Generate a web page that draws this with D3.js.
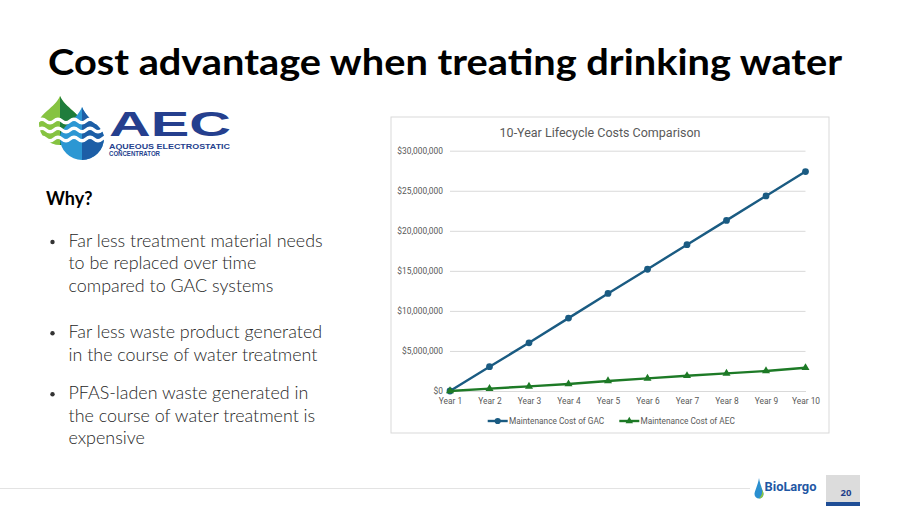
<!DOCTYPE html>
<html>
<head>
<meta charset="utf-8">
<script src="https://cdn.jsdelivr.net/npm/d3@7"></script>
<style>
  html, body { margin: 0; padding: 0; background: #fff; }
  svg { display: block; }
</style>
</head>
<body>
<svg id="slide" width="900" height="506"></svg>
<script>
// ---------- DATA ----------
const years = ["Year 1","Year 2","Year 3","Year 4","Year 5","Year 6","Year 7","Year 8","Year 9","Year 10"];
const gacCost = [0, 3030000, 6020000, 9100000, 12180000, 15200000, 18270000, 21300000, 24350000, 27400000];
const aecCost = [0, 300000, 580000, 870000, 1250000, 1580000, 1900000, 2200000, 2500000, 2900000];
const yTicks = [0, 5000000, 10000000, 15000000, 20000000, 25000000, 30000000];
const seriesNames = ["Maintenance Cost of GAC", "Maintenance Cost of AEC"];
const slideTitle = "Cost advantage when treating drinking water";
const chartTitle = "10-Year Lifecycle Costs Comparison";
const bullets = [
  ["Far less treatment material needs", "to be replaced over time", "compared to GAC systems"],
  ["Far less waste product generated", "in the course of water treatment"],
  ["PFAS-laden waste generated in", "the course of water treatment is", "expensive"]
];

const svg = d3.select("#slide");

// ---------- SLIDE TITLE ----------
svg.append("text")
  .attr("x", 48).attr("y", 75)
  .attr("font-family", "Lato, 'Open Sans', sans-serif")
  .attr("font-weight", 700).attr("font-size", 36)
  .attr("fill", "#000")
  .attr("textLength", 794).attr("lengthAdjust", "spacingAndGlyphs")
  .text(slideTitle);

// ---------- AEC LOGO ----------
const logo = svg.append("g");
function dropPath(cx, cy, r, tipY) {
  const k = tipY + (cy - tipY) * 0.45;
  return `M${cx},${tipY} C${cx + r * 0.25},${k} ${cx + r},${cy - r * 0.55} ${cx + r},${cy}
          A${r},${r} 0 0 1 ${cx - r},${cy}
          C${cx - r},${cy - r * 0.55} ${cx - r * 0.25},${k} ${cx},${tipY} Z`;
}
const defs = svg.append("defs");
defs.append("clipPath").attr("id", "gclip").append("path").attr("d", dropPath(60, 124, 21, 96));
defs.append("clipPath").attr("id", "bclip").append("path").attr("d", dropPath(82, 138, 22, 107));
logo.append("path").attr("d", dropPath(60, 124, 21, 96)).attr("fill", "#86c341");
logo.append("rect").attr("x", 60).attr("y", 90).attr("width", 30).attr("height", 60)
  .attr("fill", "#1f7d3c").attr("clip-path", "url(#gclip)");
logo.append("path").attr("d", dropPath(82, 138, 22, 107)).attr("fill", "#2c97d3");
logo.append("rect").attr("x", 82).attr("y", 100).attr("width", 30).attr("height", 70)
  .attr("fill", "#1d5ea6").attr("clip-path", "url(#bclip)");
[121, 130, 139].forEach(yy => {
  let d = `M38,${yy}`;
  for (let x = 38; x < 104; x += 16) {
    d += ` Q${x + 4},${yy - 3.5} ${x + 8},${yy} Q${x + 12},${yy + 3.5} ${x + 16},${yy}`;
  }
  logo.append("path").attr("d", d).attr("fill", "none")
    .attr("stroke", "#fff").attr("stroke-width", 3.2);
});
logo.append("text").attr("x", 109).attr("y", 136)
  .attr("font-family", "'Liberation Sans', Arial, sans-serif").attr("font-weight", 700)
  .attr("font-size", 35).attr("fill", "#253f8e")
  .attr("textLength", 122).attr("lengthAdjust", "spacingAndGlyphs").text("AEC");
logo.append("text").attr("x", 109).attr("y", 148.6)
  .attr("font-family", "'Liberation Sans', Arial, sans-serif").attr("font-weight", 700)
  .attr("font-size", 6.3).attr("fill", "#253f8e")
  .attr("textLength", 121).attr("lengthAdjust", "spacingAndGlyphs").text("AQUEOUS ELECTROSTATIC");
logo.append("text").attr("x", 109).attr("y", 156.2)
  .attr("font-family", "'Liberation Sans', Arial, sans-serif").attr("font-weight", 700)
  .attr("font-size", 6.3).attr("fill", "#253f8e")
  .attr("textLength", 51).attr("lengthAdjust", "spacingAndGlyphs").text("CONCENTRATOR");

// ---------- LEFT TEXT ----------
svg.append("text").attr("x", 46).attr("y", 205)
  .attr("font-family", "Lato, 'Open Sans', sans-serif")
  .attr("font-weight", 700).attr("font-size", 18).attr("fill", "#000").text("Why?");

const bulletBaselines = [[247, 269.3, 291.6], [338.3, 360.6], [399.3, 421.6, 443.9]];
const bodyFont = "Lato, 'Open Sans', sans-serif";
bullets.forEach((lines, i) => {
  const b0 = bulletBaselines[i][0];
  svg.append("circle").attr("cx", 52.5).attr("cy", b0 - 5).attr("r", 2.2).attr("fill", "#333");
  lines.forEach((ln, j) => {
    svg.append("text").attr("x", 68.5).attr("y", bulletBaselines[i][j])
      .attr("font-family", bodyFont).attr("font-weight", 300)
      .attr("font-size", 17.9).attr("fill", "#262626").text(ln);
  });
});

// ---------- CHART ----------
const frame = { x: 391, y: 117, w: 438, h: 316 };
svg.append("rect").attr("x", frame.x).attr("y", frame.y)
  .attr("width", frame.w).attr("height", frame.h)
  .attr("fill", "#fff").attr("stroke", "#d9d9d9").attr("stroke-width", 1);

const chartFont = "Roboto, 'Liberation Sans', sans-serif";
svg.append("text").attr("x", 600).attr("y", 137).attr("text-anchor", "middle")
  .attr("font-family", chartFont).attr("font-size", 12.5).attr("fill", "#595959")
  .text(chartTitle);

const x = d3.scalePoint().domain(years).range([450, 805.5]);
const y = d3.scaleLinear().domain([0, 30000000]).range([391, 150.7]);

// gridlines + y labels
const yAxis = svg.append("g").attr("transform", "translate(450,0)")
  .call(d3.axisLeft(y).tickValues(yTicks).tickFormat(d3.format("$,")).tickSize(-355.5).tickPadding(7));
yAxis.select(".domain").remove();
yAxis.selectAll(".tick line").attr("stroke", "#d9d9d9").attr("stroke-width", 1);
yAxis.selectAll(".tick text").attr("font-family", chartFont).attr("font-size", 8.4)
  .attr("fill", "#595959");

// x axis
const xAxis = svg.append("g").attr("transform", "translate(0,391)")
  .call(d3.axisBottom(x).tickSize(0).tickPadding(7));
xAxis.select(".domain").attr("stroke", "#d9d9d9");
xAxis.selectAll(".tick text").attr("font-family", chartFont).attr("font-size", 8.4)
  .attr("fill", "#595959");

const colors = ["#1a5b82", "#1d7a26"];
const seriesData = [gacCost, aecCost];
const line = d3.line().x((d, i) => x(years[i])).y(d => y(d));

seriesData.forEach((vals, s) => {
  svg.append("path").datum(vals).attr("d", line)
    .attr("fill", "none").attr("stroke", colors[s]).attr("stroke-width", 2.4)
    .attr("stroke-linejoin", "round");
  const sym = s === 0 ? d3.symbolCircle : d3.symbolTriangle;
  const size = s === 0 ? 36 : 28;
  svg.append("g").selectAll("path").data(vals).join("path")
    .attr("transform", (d, i) => `translate(${x(years[i])},${y(d)})`)
    .attr("d", d3.symbol(sym, size)).attr("fill", colors[s]);
});

// legend
const legendItems = [{ x0: 487.7, tx: 509 }, { x0: 619.3, tx: 640.5 }];
legendItems.forEach((it, s) => {
  const g = svg.append("g");
  g.append("line").attr("x1", it.x0).attr("x2", it.x0 + 20).attr("y1", 421).attr("y2", 421)
    .attr("stroke", colors[s]).attr("stroke-width", 2.4);
  g.append("path").attr("transform", `translate(${it.x0 + 10},421)`)
    .attr("d", d3.symbol(s === 0 ? d3.symbolCircle : d3.symbolTriangle, s === 0 ? 30 : 24))
    .attr("fill", colors[s]);
  g.append("text").attr("x", it.tx).attr("y", 424)
    .attr("font-family", chartFont).attr("font-size", 8.3).attr("fill", "#595959")
    .text(seriesNames[s]);
});

// ---------- FOOTER ----------
svg.append("line").attr("x1", 0).attr("x2", 750).attr("y1", 488.5).attr("y2", 488.5)
  .attr("stroke", "#e3e3e3").attr("stroke-width", 1);
// BioLargo mark
svg.append("path").attr("d", dropPath(759, 494, 4.5, 478)).attr("fill", "#2a8fd0");
svg.append("path").attr("d", "M759,486 C763,489 763.5,494 759,498.5 A4.5,4.5 0 0 0 763.5,494 C763.5,491 761,488 759,486 Z")
  .attr("fill", "#8cc63f");
svg.append("text").attr("x", 764.5).attr("y", 491)
  .attr("font-family", "Roboto, 'Liberation Sans', sans-serif").attr("font-weight", 700)
  .attr("font-size", 13.5).attr("fill", "#1f57a4")
  .attr("textLength", 52).attr("lengthAdjust", "spacingAndGlyphs").text("BioLargo");
// page number box
svg.append("rect").attr("x", 826).attr("y", 475).attr("width", 34).attr("height", 31).attr("fill", "#dcdcdc");
svg.append("rect").attr("x", 826).attr("y", 502).attr("width", 34).attr("height", 4).attr("fill", "#1f4e96");
svg.append("text").attr("x", 846).attr("y", 496).attr("text-anchor", "middle")
  .attr("font-family", "'Open Sans', sans-serif").attr("font-weight", 700)
  .attr("font-size", 9.5).attr("fill", "#1f3f8a").text("20");
</script>
</body>
</html>
